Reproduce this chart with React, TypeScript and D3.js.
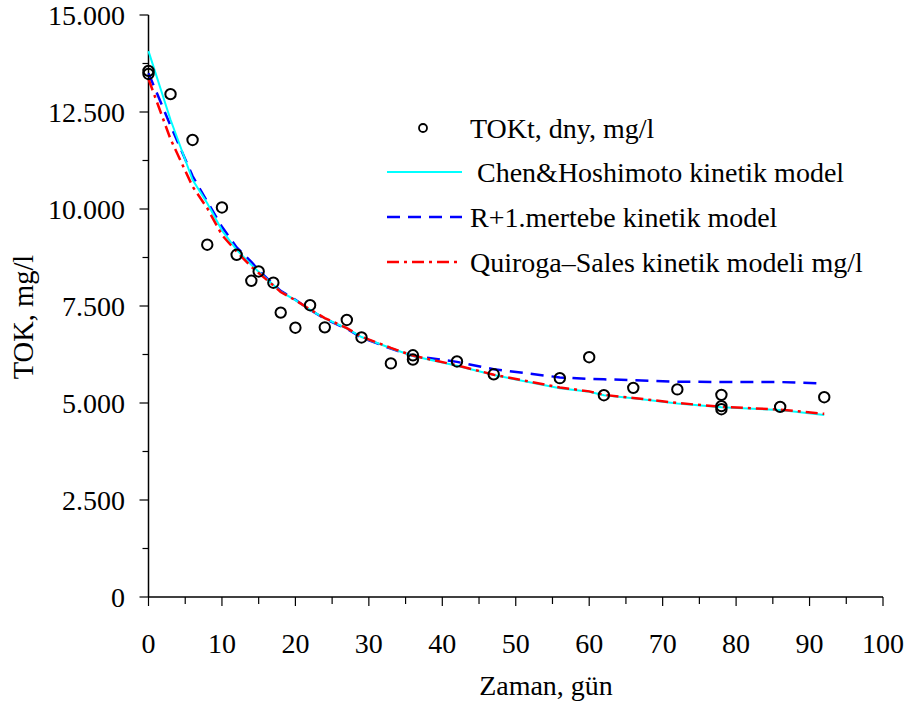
import React from "react";
import * as d3 from "d3";

// observed TOC values (days, mg/l)
const obsDays = [0, 0, 3, 6, 8, 10, 12, 14, 15, 17, 18, 20, 22, 24, 27, 29, 33, 36, 36, 42, 47, 56, 60, 62, 66, 72, 78, 78, 78, 86, 92];
const obsToc = [13560, 13480, 12960, 11780, 9080, 10040, 8820, 8150, 8390, 8100, 7330, 6940, 7520, 6950, 7140, 6690, 6020, 6230, 6120, 6070, 5740, 5640, 6180, 5200, 5390, 5350, 5210, 4920, 4840, 4900, 5150];

// model curves, evaluated at the sampling days
const modelDays = [0, 3, 6, 8, 10, 12, 14, 15, 17, 18, 20, 22, 24, 27, 29, 33, 36, 42, 47, 56, 60, 62, 66, 72, 78, 86, 92];
const chenModel = [14070, 12300, 10750, 10150, 9450, 8950, 8560, 8380, 8040, 7870, 7650, 7400, 7180, 6920, 6700, 6410, 6210, 5960, 5720, 5380, 5290, 5200, 5120, 4990, 4890, 4820, 4690];
const r1Model = [13500, 12150, 10850, 10190, 9540, 9010, 8640, 8420, 8060, 7890, 7660, 7400, 7170, 6910, 6690, 6400, 6220, 6060, 5870, 5660, 5620, 5610, 5590, 5550, 5540, 5540, 5500];
const quirogaModel = [13350, 11800, 10580, 10020, 9330, 8900, 8510, 8350, 8030, 7860, 7650, 7410, 7190, 6930, 6710, 6420, 6220, 5970, 5730, 5400, 5300, 5210, 5130, 5000, 4900, 4830, 4720];

const xTicks = [0, 10, 20, 30, 40, 50, 60, 70, 80, 90, 100];
const xMinor = [5, 15, 25, 35, 45, 55, 65, 75, 85, 95];
const yTicks = [0, 2500, 5000, 7500, 10000, 12500, 15000];
const yMinor = [1250, 3750, 6250, 8750, 11250, 13750];

const legendLabels = ["TOKt, dny, mg/l", " Chen&Hoshimoto kinetik model", "R+1.mertebe kinetik model", "Quiroga\u2013Sales kinetik modeli mg/l"];

const W = 911;
const H = 708;
const left = 148.5;
const right = 883;
const top = 15;
const bottom = 597;
const font = "'Liberation Serif', 'Times New Roman', serif";

const trFormat = d3.formatLocale({ decimal: ",", thousands: ".", grouping: [3], currency: ["", ""] }).format(",");

export default function App() {
  const x = d3.scaleLinear().domain([0, 100]).range([left, right]);
  const y = d3.scaleLinear().domain([0, 15000]).range([bottom, top]);

  const line = d3
    .line<number>()
    .x((_, i) => x(modelDays[i]))
    .y((d) => y(d));

  const series = [
    { values: r1Model, color: "#0000FF", dash: "13,8", width: 2.5 },
    { values: chenModel, color: "#00FFFF", dash: "", width: 2 },
    { values: quirogaModel, color: "#FF0000", dash: "12,5,3,5", width: 2.5 },
  ];

  const legendX = 387;
  const legendTextX = 470;
  const legendY = [128, 172, 217, 262];

  return (
    <svg width={W} height={H} style={{ position: "absolute", left: 0, top: 0, background: "#fff" }} fontFamily={font}>
      {/* axes */}
      <line x1={left} x2={left} y1={top} y2={bottom} stroke="#000" strokeWidth={1.5} />
      <line x1={left} x2={right} y1={bottom} y2={bottom} stroke="#000" strokeWidth={1.5} />
      {yTicks.map((t) => (
        <g key={"y" + t}>
          <line x1={left - 9} x2={left} y1={y(t)} y2={y(t)} stroke="#000" strokeWidth={1.2} />
          <text x={125} y={y(t) + 9.5} textAnchor="end" fontSize={28}>
            {trFormat(t)}
          </text>
        </g>
      ))}
      {yMinor.map((t) => (
        <line key={"ym" + t} x1={left - 6} x2={left} y1={y(t)} y2={y(t)} stroke="#000" strokeWidth={1.2} />
      ))}
      {xTicks.map((t) => (
        <g key={"x" + t}>
          <line x1={x(t)} x2={x(t)} y1={bottom} y2={bottom + 9} stroke="#000" strokeWidth={1.2} />
          <text x={x(t)} y={653} textAnchor="middle" fontSize={28}>
            {t}
          </text>
        </g>
      ))}
      {xMinor.map((t) => (
        <line key={"xm" + t} x1={x(t)} x2={x(t)} y1={bottom} y2={bottom + 7} stroke="#000" strokeWidth={1.2} />
      ))}

      {/* axis titles */}
      <text x={546} y={695} textAnchor="middle" fontSize={28}>
        Zaman, gün
      </text>
      <text transform={`translate(33,${317}) rotate(-90)`} textAnchor="middle" fontSize={28.5}>
        TOK, mg/l
      </text>

      {/* model curves */}
      {series.map((s, i) => (
        <path
          key={i}
          d={line(s.values) || ""}
          fill="none"
          stroke={s.color}
          strokeWidth={s.width}
          strokeDasharray={s.dash || undefined}
        />
      ))}

      {/* observations */}
      {obsDays.map((d, i) => (
        <circle key={i} cx={x(d)} cy={y(obsToc[i])} r={5.2} fill="none" stroke="#000" strokeWidth={2} />
      ))}

      {/* legend */}
      <circle cx={423} cy={legendY[0]} r={4} fill="none" stroke="#000" strokeWidth={1.8} />
      <line x1={legendX} x2={462} y1={legendY[1]} y2={legendY[1]} stroke="#00FFFF" strokeWidth={2} />
      <line x1={legendX} x2={462} y1={legendY[2]} y2={legendY[2]} stroke="#0000FF" strokeWidth={2.5} strokeDasharray="13,8" />
      <line x1={legendX} x2={462} y1={legendY[3]} y2={legendY[3]} stroke="#FF0000" strokeWidth={2.5} strokeDasharray="12,5,3,5" />
      {legendLabels.map((l, i) => (
        <text key={i} x={legendTextX} y={legendY[i] + 9.5} fontSize={28} style={{ whiteSpace: "pre" }}>
          {l}
        </text>
      ))}
    </svg>
  );
}
